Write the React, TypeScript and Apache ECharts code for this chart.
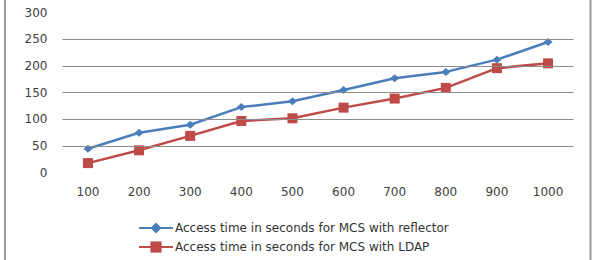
import React, { useEffect, useRef } from "react";
import * as echarts from "echarts";

const categories = ["100", "200", "300", "400", "500", "600", "700", "800", "900", "1000"];
const reflectorTimes = [45, 75, 90, 123, 134, 155, 177, 189, 212, 245];
const ldapTimes = [18, 42, 69, 97, 102, 122, 139, 159, 196, 205];
const gridValues = [50, 100, 150, 200, 250];

const reflectorName = "Access time in seconds for MCS with reflector";
const ldapName = "Access time in seconds for MCS with LDAP";

const FONT = "DejaVu Sans";

export default function App() {
  const ref = useRef<HTMLDivElement>(null);

  useEffect(() => {
    if (!ref.current) return;
    const chart = echarts.init(ref.current, null, { renderer: "svg" });
    chart.setOption({
      animation: false,
      backgroundColor: "#ffffff",
      textStyle: { fontFamily: FONT },
      grid: { left: 62.4, right: 28.4, top: 12.7, bottom: 87.3, containLabel: false },
      legend: {
        data: [reflectorName, ldapName],
        orient: "vertical",
        left: 133,
        top: 217,
        itemWidth: 34,
        itemHeight: 14,
        itemGap: 7,
        textStyle: { fontFamily: FONT, fontSize: 12, color: "#333333", padding: [0, 0, 0, -3] },
      },
      xAxis: {
        type: "category",
        data: categories,
        boundaryGap: true,
        axisLine: { show: false },
        axisTick: { show: false },
        splitLine: { show: false },
        axisLabel: { fontFamily: FONT, fontSize: 12, color: "#404040", margin: 13 },
      },
      yAxis: {
        type: "value",
        min: 0,
        max: 300,
        interval: 50,
        axisLine: { show: false },
        axisTick: { show: false },
        splitLine: { show: false },
        axisLabel: { fontFamily: FONT, fontSize: 12, color: "#404040", margin: 15 },
      },
      graphic: [
        { type: "line", shape: { x1: 5, y1: 0, x2: 5, y2: 260 }, style: { stroke: "#9a9a9a", lineWidth: 2 } },
        { type: "line", shape: { x1: 590.5, y1: 0, x2: 590.5, y2: 260 }, style: { stroke: "#9a9a9a", lineWidth: 2 } },
      ],
      series: [
        {
          name: "gridlines",
          type: "line",
          data: [],
          z: 0,
          silent: true,
          markLine: {
            silent: true,
            symbol: "none",
            label: { show: false },
            lineStyle: { color: "#8c8c8c", width: 1, type: "solid" },
            data: gridValues.map((v) => ({ yAxis: v })),
          },
        },
        {
          name: reflectorName,
          type: "line",
          data: reflectorTimes,
          z: 3,
          symbol: "diamond",
          symbolSize: [9, 8],
          color: "#4a7ebb",
          lineStyle: { color: "#4a7ebb", width: 2.5 },
          itemStyle: { color: "#4a7ebb" },
        },
        {
          name: ldapName,
          type: "line",
          data: ldapTimes,
          z: 2,
          symbol: "rect",
          symbolSize: 10,
          color: "#be4b48",
          lineStyle: { color: "#be4b48", width: 2.5 },
          itemStyle: { color: "#be4b48" },
        },
      ],
    });
    return () => chart.dispose();
  }, []);

  return (
    <div
      ref={ref}
      style={{ position: "absolute", left: 0, top: 0, width: 602, height: 260 }}
    />
  );
}
